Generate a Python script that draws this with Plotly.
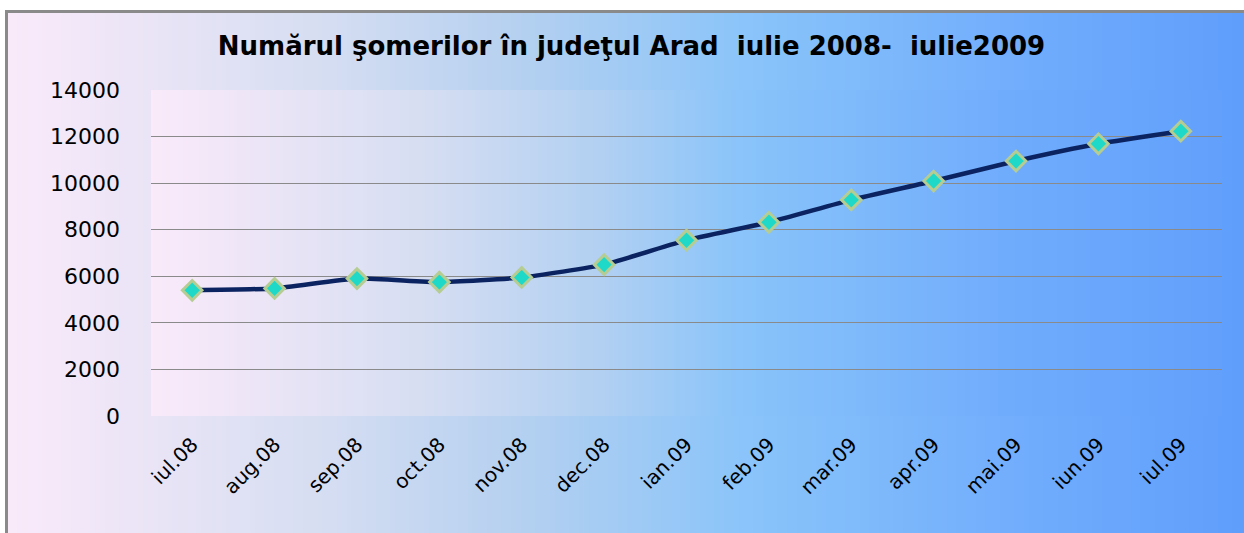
import base64, struct, zlib
import plotly.graph_objects as go

categories = ["iul.08", "aug.08", "sep.08", "oct.08", "nov.08", "dec.08", "ian.09",
              "feb.09", "mar.09", "apr.09", "mai.09", "iun.09", "iul.09"]
values = [5400, 5480, 5900, 5750, 5950, 6500, 7550, 8320, 9280, 10090, 10950, 11690, 12230]
y_ticks = [0, 2000, 4000, 6000, 8000, 10000, 12000, 14000]
title_text = "Numărul şomerilor în judeţul Arad  iulie 2008-  iulie2009"

W, H = 1244, 533
L, R, T, B = 151, 1222, 90, 416


def gradient_png(stops, width=256):
    row = bytearray([0])
    for i in range(width):
        t = i / (width - 1)
        for k in range(len(stops) - 1):
            t0, c0 = stops[k]
            t1, c1 = stops[k + 1]
            if t0 <= t <= t1:
                f = (t - t0) / (t1 - t0) if t1 > t0 else 0
                c = [round(c0[j] + (c1[j] - c0[j]) * f) for j in range(3)]
                break
        row += bytes(c)
    raw = bytes(row) * 2

    def chunk(tag, data):
        return struct.pack(">I", len(data)) + tag + data + struct.pack(">I", zlib.crc32(tag + data) & 0xffffffff)

    png = b"\x89PNG\r\n\x1a\n" + chunk(b"IHDR", struct.pack(">IIBBBBB", width, 2, 8, 2, 0, 0, 0)) \
        + chunk(b"IDAT", zlib.compress(raw)) + chunk(b"IEND", b"")
    return "data:image/png;base64," + base64.b64encode(png).decode()


outer_stops = [(0.0, (250, 234, 250)), (0.25, (215, 222, 242)), (0.42, (180, 208, 240)),
               (0.6, (138, 196, 250)), (0.8, (115, 175, 252)), (1.0, (96, 158, 252))]
inner_stops = [(0.0, (250, 234, 250)), (0.25, (215, 222, 242)), (0.42, (178, 208, 242)),
               (0.55, (138, 196, 250)), (0.8, (112, 172, 252)), (1.0, (98, 160, 252))]


def px(xp):
    return (xp - L) / (R - L)


def py(yp):
    return (B - yp) / (B - T)


fig = go.Figure()
fig.add_trace(go.Scatter(
    x=categories, y=values, mode="lines+markers",
    line=dict(color="#0b2461", width=4.5, shape="spline", smoothing=0.5),
    marker=dict(symbol="diamond", size=15, color="#1ed8c8",
                line=dict(color="#b5cd92", width=3)),
    showlegend=False, cliponaxis=False,
))

fig.update_layout(
    width=W, height=H,
    margin=dict(l=L, r=W - R, t=T, b=H - B, pad=0),
    paper_bgcolor="white", plot_bgcolor="rgba(0,0,0,0)",
    title=dict(text=title_text, x=(193 + 1070) / 2 / W, xref="container", xanchor="center",
               y=1 - 46 / H, yref="container", yanchor="middle",
               font=dict(family="DejaVu Sans", size=26, color="black", weight="bold")),
    images=[
        dict(source=gradient_png(outer_stops), xref="paper", yref="paper",
             x=px(5), y=py(10), sizex=px(W) - px(5), sizey=py(10) - py(H),
             xanchor="left", yanchor="top", sizing="stretch", layer="below"),
        dict(source=gradient_png(inner_stops), xref="paper", yref="paper",
             x=0, y=1, sizex=1, sizey=1,
             xanchor="left", yanchor="top", sizing="stretch", layer="below"),
    ],
    shapes=[
        dict(type="line", xref="paper", yref="paper", x0=px(6.5), x1=px(6.5), y0=py(10), y1=py(H),
             line=dict(color="#8a8a8a", width=3), layer="above"),
        dict(type="line", xref="paper", yref="paper", x0=px(5), x1=px(W), y0=py(11.5), y1=py(11.5),
             line=dict(color="#8a8a8a", width=3), layer="above"),
    ],
    xaxis=dict(type="category", showgrid=False, zeroline=False, showline=False,
               ticks="", tickangle=-45, ticklabelstandoff=12,
               tickfont=dict(family="DejaVu Sans", size=20, color="black"),
               range=[-0.5, len(categories) - 0.5]),
    yaxis=dict(range=[0, 14000], tickvals=y_ticks, ticktext=[str(v) for v in y_ticks],
               showgrid=True, gridcolor="#8a8a8a", gridwidth=1, zeroline=False,
               showline=False, ticks="", ticklabelstandoff=30,
               tickfont=dict(family="DejaVu Sans", size=22, color="black")),
)

fig.write_html("out.html", config={"displayModeBar": False},
               post_script="document.body.style.margin='0';document.body.style.overflow='hidden';")
